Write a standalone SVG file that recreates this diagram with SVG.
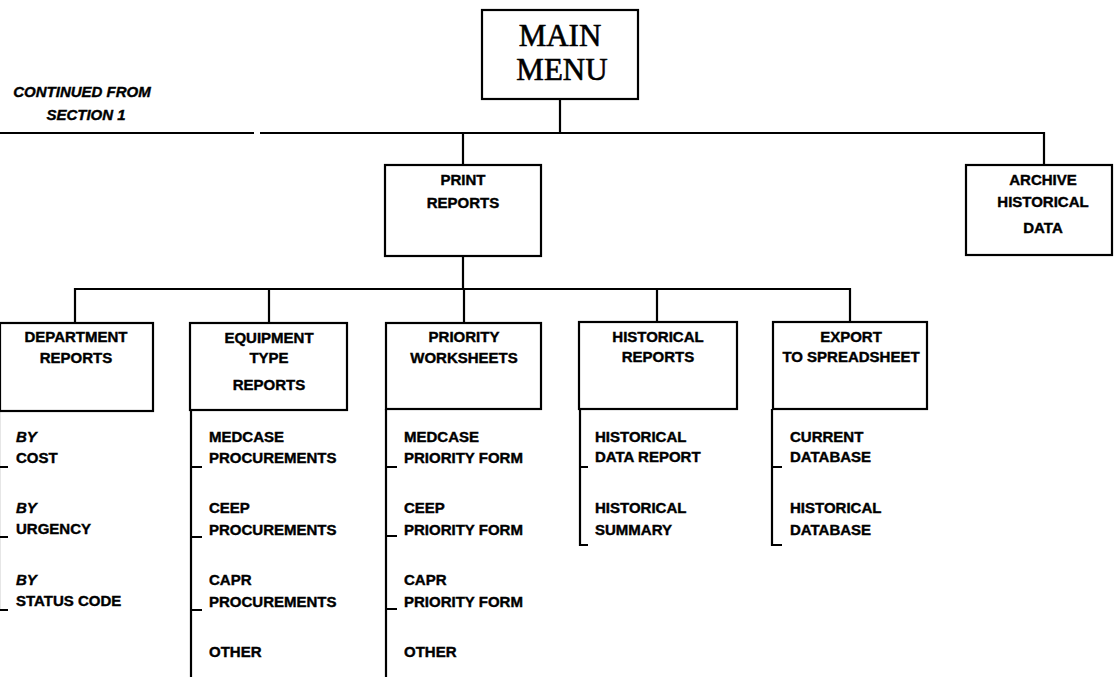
<svg xmlns="http://www.w3.org/2000/svg" width="1115" height="677" viewBox="0 0 1115 677">
<style>
.box{fill:#fff;stroke:#000;stroke-width:2.2}
.ln{fill:none;stroke:#000;stroke-width:2.2}
.t{font-family:"Liberation Sans",Arial,sans-serif;font-weight:bold;font-size:15px;fill:#000;stroke:#000;stroke-width:0.4}
.c{text-anchor:middle}
.i{font-style:italic}
.big{font-family:"Liberation Serif","Times New Roman",serif;font-size:31px;fill:#000;stroke:#000;stroke-width:0.6;text-anchor:middle}
</style>
<rect width="1115" height="677" fill="#fff"/>
<g id="connectors">
<path class="ln" d="M560 99 V133 M0 133 H254 M260 133 H1044 V165 M463 133 V165"/>
<path class="ln" d="M463 256 V289 M75 323 V289 H850 V323 M269 289 V323 M464 289 V323 M657 289 V323"/>
<path class="ln" d="M-1 410 V610 M-1 467 H8 M-1 537 H8 M-1 610 H8"/>
<path class="ln" d="M191 410 V677 M191 467 H202 M191 537 H202 M191 610 H202"/>
<path class="ln" d="M386 409 V677 M386 467 H397 M386 536 H397 M386 609 H397"/>
<path class="ln" d="M580 409 V545 H588 M580 467 H588"/>
<path class="ln" d="M772 409 V545 H782 M772 467 H782"/>
</g>
<g id="note">
<text class="t i c" x="82" y="97">CONTINUED FROM</text>
<text class="t i c" x="86" y="120">SECTION 1</text>
</g>
<g id="main-menu">
<rect class="box" x="482" y="10" width="156" height="89"/>
<text class="big" x="560" y="46">MAIN</text>
<text class="big" x="562" y="80">MENU</text>
</g>
<g id="print-reports">
<rect class="box" x="385" y="165" width="156" height="91"/>
<text class="t c" x="463" y="185">PRINT</text>
<text class="t c" x="463" y="208">REPORTS</text>
</g>
<g id="archive">
<rect class="box" x="966" y="165" width="146" height="90"/>
<text class="t c" x="1043" y="185">ARCHIVE</text>
<text class="t c" x="1043" y="207">HISTORICAL</text>
<text class="t c" x="1043" y="233">DATA</text>
</g>
<g id="department-reports">
<rect class="box" x="0" y="323" width="153" height="88"/>
<text class="t c" x="76" y="342">DEPARTMENT</text>
<text class="t c" x="76" y="363">REPORTS</text>
<text class="t i" x="16" y="442">BY</text>
<text class="t" x="16" y="463">COST</text>
<text class="t i" x="16" y="513">BY</text>
<text class="t" x="16" y="534">URGENCY</text>
<text class="t i" x="16" y="585">BY</text>
<text class="t" x="16" y="606">STATUS CODE</text>
</g>
<g id="equipment-type-reports">
<rect class="box" x="190" y="323" width="157" height="87"/>
<text class="t c" x="269" y="343">EQUIPMENT</text>
<text class="t c" x="269" y="363">TYPE</text>
<text class="t c" x="269" y="390">REPORTS</text>
<text class="t" x="209" y="442">MEDCASE</text>
<text class="t" x="209" y="463">PROCUREMENTS</text>
<text class="t" x="209" y="513">CEEP</text>
<text class="t" x="209" y="535">PROCUREMENTS</text>
<text class="t" x="209" y="585">CAPR</text>
<text class="t" x="209" y="607">PROCUREMENTS</text>
<text class="t" x="209" y="657">OTHER</text>
</g>
<g id="priority-worksheets">
<rect class="box" x="386" y="323" width="155" height="86"/>
<text class="t c" x="464" y="342">PRIORITY</text>
<text class="t c" x="464" y="363">WORKSHEETS</text>
<text class="t" x="404" y="442">MEDCASE</text>
<text class="t" x="404" y="463">PRIORITY FORM</text>
<text class="t" x="404" y="513">CEEP</text>
<text class="t" x="404" y="535">PRIORITY FORM</text>
<text class="t" x="404" y="585">CAPR</text>
<text class="t" x="404" y="607">PRIORITY FORM</text>
<text class="t" x="404" y="657">OTHER</text>
</g>
<g id="historical-reports">
<rect class="box" x="579" y="322" width="158" height="87"/>
<text class="t c" x="658" y="342">HISTORICAL</text>
<text class="t c" x="658" y="362">REPORTS</text>
<text class="t" x="595" y="442">HISTORICAL</text>
<text class="t" x="595" y="462">DATA REPORT</text>
<text class="t" x="595" y="513">HISTORICAL</text>
<text class="t" x="595" y="535">SUMMARY</text>
</g>
<g id="export-to-spreadsheet">
<rect class="box" x="773" y="322" width="154" height="87"/>
<text class="t c" x="851" y="342">EXPORT</text>
<text class="t c" x="851" y="362">TO SPREADSHEET</text>
<text class="t" x="790" y="442">CURRENT</text>
<text class="t" x="790" y="462">DATABASE</text>
<text class="t" x="790" y="513">HISTORICAL</text>
<text class="t" x="790" y="535">DATABASE</text>
</g>
</svg>
